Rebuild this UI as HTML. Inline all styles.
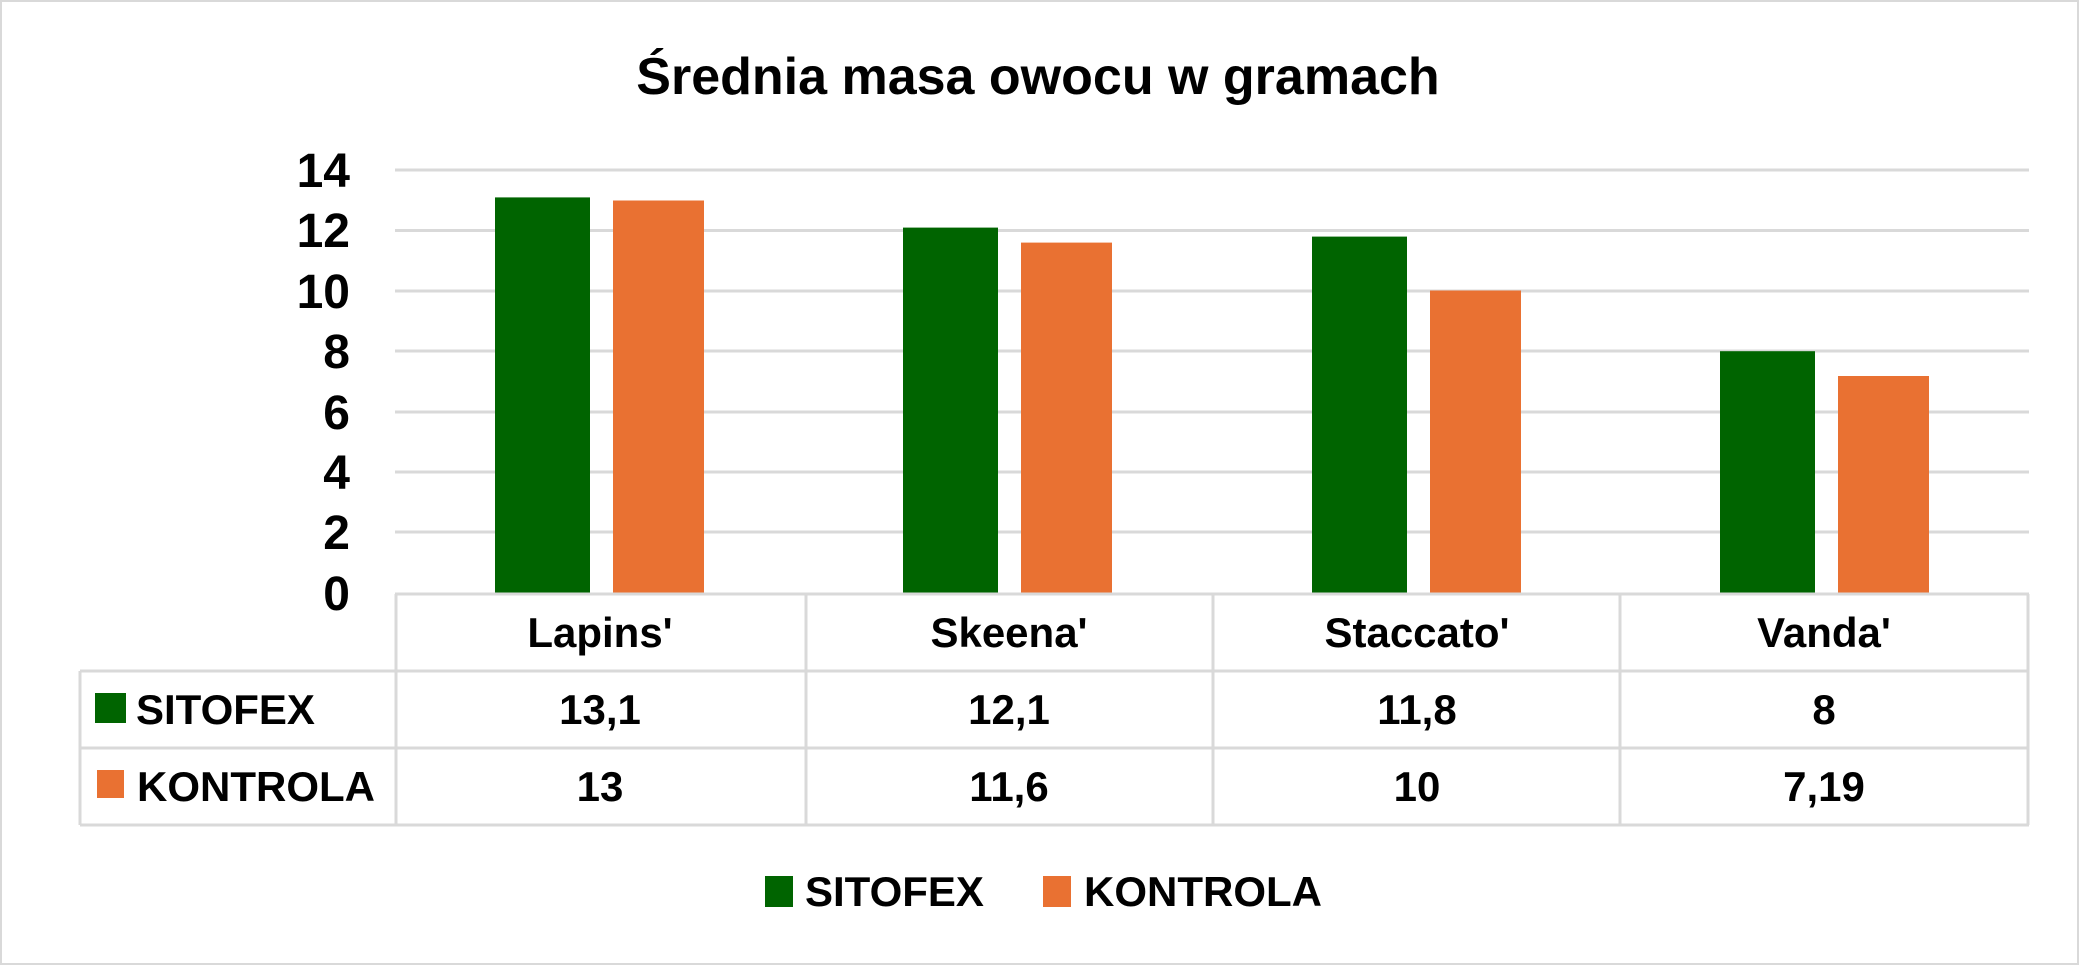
<!DOCTYPE html>
<html><head><meta charset="utf-8"><style>html,body{margin:0;padding:0;background:#fff}svg{display:block}</style></head>
<body>
<svg width="2079" height="965" viewBox="0 0 2079 965" xmlns="http://www.w3.org/2000/svg" font-family="Liberation Sans, sans-serif" font-weight="bold">
<rect x="1" y="1" width="2077" height="963" fill="#fff" stroke="#d9d9d9" stroke-width="2"/>
<text x="1038" y="94" font-size="52" text-anchor="middle" fill="#000">Średnia masa owocu w gramach</text>
<g stroke="#d9d9d9" stroke-width="3">
<line x1="395" y1="170" x2="2029" y2="170"/>
<line x1="395" y1="230.5" x2="2029" y2="230.5"/>
<line x1="395" y1="291" x2="2029" y2="291"/>
<line x1="395" y1="351" x2="2029" y2="351"/>
<line x1="395" y1="412" x2="2029" y2="412"/>
<line x1="395" y1="472" x2="2029" y2="472"/>
<line x1="395" y1="532" x2="2029" y2="532"/>
</g>
<g font-size="48" text-anchor="end" fill="#000">
<text x="350" y="187">14</text><text x="350" y="247">12</text><text x="350" y="308">10</text><text x="350" y="368">8</text><text x="350" y="429">6</text><text x="350" y="489">4</text><text x="350" y="549">2</text><text x="350" y="610">0</text>
</g>
<g fill="#006400">
<rect x="495" y="197.4" width="95" height="396.6"/>
<rect x="903" y="227.6" width="95" height="366.4"/>
<rect x="1312" y="236.6" width="95" height="357.4"/>
<rect x="1720" y="351.2" width="95" height="242.8"/>
</g>
<g fill="#e97132">
<rect x="613" y="200.5" width="91" height="393.5"/>
<rect x="1021" y="242.6" width="91" height="351.4"/>
<rect x="1430" y="290.5" width="91" height="303.5"/>
<rect x="1838" y="376" width="91" height="218"/>
</g>
<g stroke="#d9d9d9" stroke-width="3" fill="none">
<line x1="395" y1="594" x2="2029" y2="594"/>
<line x1="80" y1="671" x2="2029" y2="671"/>
<line x1="80" y1="748" x2="2029" y2="748"/>
<line x1="80" y1="825" x2="2029" y2="825"/>
<line x1="80" y1="671" x2="80" y2="825"/>
<line x1="396" y1="594" x2="396" y2="825"/>
<line x1="806" y1="594" x2="806" y2="825"/>
<line x1="1213" y1="594" x2="1213" y2="825"/>
<line x1="1620" y1="594" x2="1620" y2="825"/>
<line x1="2028" y1="594" x2="2028" y2="825"/>
</g>
<g font-size="42" text-anchor="middle" fill="#000">
<text x="600" y="647">Lapins'</text><text x="1009" y="647">Skeena'</text><text x="1417" y="647">Staccato'</text><text x="1824" y="647">Vanda'</text>
<text x="600" y="724">13,1</text><text x="1009" y="724">12,1</text><text x="1417" y="724">11,8</text><text x="1824" y="724">8</text>
<text x="600" y="801">13</text><text x="1009" y="801">11,6</text><text x="1417" y="801">10</text><text x="1824" y="801">7,19</text>
</g>
<rect x="95" y="693" width="31" height="30" fill="#006400"/>
<rect x="97" y="770" width="27" height="28" fill="#e97132"/>
<g font-size="42" fill="#000">
<text x="136" y="724">SITOFEX</text>
<text x="137" y="801">KONTROLA</text>
</g>
<rect x="765" y="876" width="28" height="31" fill="#006400"/>
<rect x="1043" y="876" width="28" height="31" fill="#e97132"/>
<g font-size="42" fill="#000">
<text x="805" y="906">SITOFEX</text>
<text x="1084" y="906">KONTROLA</text>
</g>
</svg>
</body></html>
